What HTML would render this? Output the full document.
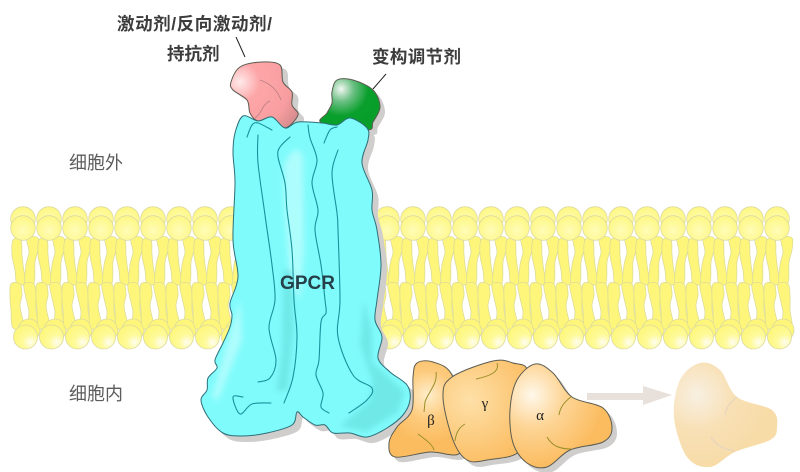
<!DOCTYPE html>
<html><head><meta charset="utf-8">
<style>
html,body{margin:0;padding:0;background:#fff}
svg{display:block}
text{font-family:"Liberation Sans","Noto Sans CJK SC",sans-serif}
.l{font-size:17.500px;font-weight:700;fill:#3c3c3c}
.r{font-size:18px;font-weight:400;fill:#5c5c5c}
.g{font-family:"Liberation Serif",serif;font-size:15px;fill:#222}
.in{fill:none;stroke:#17929b;stroke-width:1.1;stroke-linecap:round}
.o{stroke:#5b5b50;stroke-width:1;stroke-linejoin:round}
.t{stroke:#2c6f78;stroke-width:1;stroke-linejoin:round}
.f{fill:none;stroke:#9a8f2a;stroke-width:1}
</style></head>
<body>
<svg xmlns="http://www.w3.org/2000/svg" width="800" height="472" viewBox="0 0 800 472">
<defs>
<radialGradient id="hT" cx=".5" cy=".6" r=".65"><stop offset="0" stop-color="#fffcb8"/><stop offset="1" stop-color="#fef77e"/></radialGradient>
<radialGradient id="hB" cx=".72" cy=".72" r=".75"><stop offset="0" stop-color="#fffdf0"/><stop offset=".45" stop-color="#fefa98"/><stop offset="1" stop-color="#fef77e"/></radialGradient>
<radialGradient id="pk" gradientUnits="userSpaceOnUse" cx="240" cy="82" r="65"><stop offset="0" stop-color="#ffeaea"/><stop offset=".3" stop-color="#fda6a8"/><stop offset=".75" stop-color="#f99ea0"/><stop offset="1" stop-color="#d98d90"/></radialGradient>
<radialGradient id="gr" gradientUnits="userSpaceOnUse" cx="341" cy="89" r="36"><stop offset="0" stop-color="#f2f7f2"/><stop offset=".35" stop-color="#6cc084"/><stop offset=".75" stop-color="#0a9f2c"/><stop offset="1" stop-color="#079f2a"/></radialGradient>
<radialGradient id="b1" gradientUnits="userSpaceOnUse" cx="428" cy="395" r="48"><stop offset="0" stop-color="#ffeecb"/><stop offset=".5" stop-color="#fdcb7e"/><stop offset="1" stop-color="#fbbc60"/></radialGradient>
<radialGradient id="b2" gradientUnits="userSpaceOnUse" cx="470" cy="400" r="70"><stop offset="0" stop-color="#fee0a8"/><stop offset="1" stop-color="#fbbc60"/></radialGradient>
<radialGradient id="b3" gradientUnits="userSpaceOnUse" cx="532" cy="395" r="72"><stop offset="0" stop-color="#fff8ea"/><stop offset=".45" stop-color="#fdd596"/><stop offset="1" stop-color="#fbbc60"/></radialGradient>
<radialGradient id="b4" gradientUnits="userSpaceOnUse" cx="697" cy="395" r="72"><stop offset="0" stop-color="#f8f0e2"/><stop offset=".5" stop-color="#f8e0b5"/><stop offset="1" stop-color="#f7dca8"/></radialGradient>
<filter id="bl" x="-40%" y="-40%" width="180%" height="180%"><feGaussianBlur stdDeviation="3"/></filter>

<polygon id="body" class="s" points="235,133 243,116 258,121 272,117 285,128 298,122 322,123 337,125 350,118 367,128 368,140 362,163 372,190 372,210 377,230 381,265 377,300 375,320 382,337 378,358 390,372 407,385 410,400 403,415 387,428 367,437 350,433 333,433 325,425 315,425 303,417 297,412 292,425 267,433 243,436 223,433 208,417 201,400 207,390 208,378 217,368 215,360 223,343 230,327 232,315 230,303 238,277 233,240 235,183 233,153"/>
<polygon id="pink" class="s" points="231,82 240,67 262,62 280,65 283,82 292,92 292,105 298,115 285,128 272,117 258,121 250,113 247,100 233,90"/>
<polygon id="green" class="s" points="332,92 337,80 353,80 373,90 380,107 373,122 367,130 322,123 327,113 332,103"/>
<polygon id="beta" class="s" points="413,377 417,363 433,362 452,375 462,420 460,453 430,452 395,457 389,443 397,427 412,410"/>
<polygon id="gamma" class="s" points="443,397 452,377 493,361 513,363 527,371 512,410 520,450 487,460 467,460 453,440"/>
<polygon id="alpha" class="s" points="510,410 517,380 535,364 553,373 572,397 603,408 612,428 603,442 570,450 547,467 527,463 513,443"/>

<g id="u">
<polygon class="s" fill="#fdf67a" stroke="#dedc98" stroke-width=".8" points="-10,240 -2,240 -1,255 1,272 3,283 -6,284 -8,270 -11,255"/>
<polygon class="s" fill="#fdf67a" stroke="#dedc98" stroke-width=".8" points="4,238 15,238 15,250 12,262 11,283 2,284 3,265 6,252"/>
<polygon class="s" fill="#fdf67a" stroke="#dedc98" stroke-width=".8" points="-12,284 -3,284 -1,295 -3,306 0,320 3,328 -10,328 -12,310 -13,298"/>
<polygon class="s" fill="#fdf67a" stroke="#dedc98" stroke-width=".8" points="1,284 11,284 13,296 13,310 15,328 5,328 6,312 3,298"/>
<circle cx="0" cy="219" r="12.3" fill="url(#hT)" stroke="#dcdaa2" stroke-width=".8"/>
<circle cx="0" cy="228" r="12.3" fill="url(#hT)" stroke="#dcdaa2" stroke-width=".8"/>
<circle cx="6" cy="330" r="11" fill="#fdf67a" stroke="#dcdaa2" stroke-width=".8"/>
<circle cx="2.5" cy="337" r="12" fill="url(#hB)" stroke="#dcdaa2" stroke-width=".8"/>
</g>
</defs>

<!-- bilayer -->
<g>
<use href="#u" x="23"/><use href="#u" x="49"/><use href="#u" x="75"/><use href="#u" x="101"/><use href="#u" x="127"/><use href="#u" x="153"/><use href="#u" x="179"/><use href="#u" x="205"/><use href="#u" x="231"/>
<use href="#u" x="361"/><use href="#u" x="387"/><use href="#u" x="413"/><use href="#u" x="439"/><use href="#u" x="465"/><use href="#u" x="491"/><use href="#u" x="517"/><use href="#u" x="543"/><use href="#u" x="569"/><use href="#u" x="595"/><use href="#u" x="621"/><use href="#u" x="647"/><use href="#u" x="673"/><use href="#u" x="699"/><use href="#u" x="725"/><use href="#u" x="751"/><use href="#u" x="777"/>
</g>

<!-- ligands -->
<use href="#pink" x="6" y="5" fill="#cfcecd"/>
<use href="#green" x="5" y="5" fill="#cfcecd"/>
<use href="#pink" fill="url(#pk)" class="o"/>
<use href="#green" fill="url(#gr)" class="o"/>
<path d="M260 80C272 84 278 92 281 100M270 101C262 104 262 114 255 118" fill="none" stroke="#b87f82" stroke-width=".8"/>

<!-- receptor -->
<use href="#body" x="6" y="6" fill="#cfcecd"/>
<use href="#body" fill="#80fbfc"/>
<clipPath id="cb"><use href="#body"/></clipPath>
<g clip-path="url(#cb)">
<g filter="url(#bl)">
<path d="M284 165C292 146 302 146 303 160L304 250L300 300L290 280L284 200Z" fill="#adfdfd"/>
<path d="M240 300L242 340L218 400L212 398L225 350Z" fill="#adfdfd"/>
<path d="M283 270L292 270L294 330L288 390L276 392L282 350Z" fill="#6fe8e8"/>
<path d="M364 300L372 330L372 362L405 392L398 412L366 432L340 426L370 400L372 380L360 345Z" fill="#6fe8e8"/>
</g>
</g>
<use href="#body" fill="none" class="t"/>
<polyline class="s in" points="247,137 252,125 258,123 272,130"/>
<polyline class="s in" points="258,135 258,163 265,215 272,265 275,300 269,328 276,360 270,378 258,382"/>
<polyline class="s in" points="290,137 280,147 278,157 285,183 287,210 292,250 294,300 297,337 293,377 284,403"/>
<polyline class="s in" points="308,125 310,138 317,160 312,183 318,210 315,230 321,265 325,300 326,313 321,322 319,360 316,375 323,393 321,407 329,413"/>
<polyline class="s in" points="324,143 330,130 337,127"/>
<polyline class="s in" points="338,150 332,173 337,213 338,230 340,300 338,337 353,375 372,388 367,400 349,413"/>
<polyline class="s in" points="243,397 233,397 240,414 252,404 271,403"/>

<!-- G protein -->
<use href="#alpha" x="5" y="5" fill="#cfcecd"/>
<use href="#gamma" x="5" y="5" fill="#cfcecd"/>
<use href="#beta" x="5" y="5" fill="#cfcecd"/>
<use href="#beta" fill="url(#b1)" class="o"/>
<use href="#gamma" fill="url(#b2)" class="o"/>
<use href="#alpha" fill="url(#b3)" class="o"/>
<path class="f" d="M436 372C438 384 428 392 425 402L424 412M418 434C426 440 432 444 434 450M465 424C458 428 456 434 455 441M476 379C490 376 500 372 497 363M571 397C564 402 560 408 559 415M547 437C552 446 560 449 571 449"/>
<text class="g" x="431" y="425" text-anchor="middle">β</text>
<text class="g" x="485" y="408" text-anchor="middle">γ</text>
<text class="g" x="540" y="420" text-anchor="middle">α</text>

<!-- arrow + ghost -->
<polygon points="587,393 643,393 643,386 672,395 643,405 643,400 587,400" fill="#e8e0da"/>
<polygon class="s" fill="url(#b4)" points="674,417 680,380 700,363 720,370 737,397 772,410 777,428 770,440 735,452 710,467 687,457"/>
<path d="M737 397C730 402 726 408 725 415M711 437C716 446 724 449 735 451" fill="none" stroke="#e3d3c0" stroke-width="1"/>

<!-- labels -->
<text class="l" x="117" y="30" textLength="155" lengthAdjust="spacing">激动剂/反向激动剂/</text>
<text class="l" x="167" y="60">持抗剂</text>
<text class="l" x="372" y="63" textLength="89">变构调节剂</text>
<line x1="236" y1="37" x2="245" y2="57" stroke="#222" stroke-width="1"/>
<line x1="386" y1="74" x2="373" y2="89" stroke="#222" stroke-width="1"/>
<text class="r" x="69" y="169">细胞外</text>
<text class="r" x="69" y="400">细胞内</text>
<text x="307.500" y="289" text-anchor="middle" font-size="19" font-weight="700" fill="#26404a">GPCR</text>
</svg>
<script>
(function(){
var NS="http://www.w3.org/2000/svg";
var list=document.querySelectorAll("polygon.s,polyline.s");
for(var i=0;i<list.length;i++){
 var e=list[i],closed=e.tagName.toLowerCase()==="polygon";
 var n=e.getAttribute("points").trim().split(/\s+/).map(function(a){return a.split(",").map(Number)});
 var L=n.length,d="M"+n[0][0]+" "+n[0][1];
 function P(k){return closed?n[(k+L)%L]:n[Math.max(0,Math.min(L-1,k))]}
 var end=closed?L:L-1;
 for(var k=0;k<end;k++){
  var p0=P(k-1),p1=P(k),p2=P(k+1),p3=P(k+2),t=6;
  d+="C"+(p1[0]+(p2[0]-p0[0])/t).toFixed(1)+" "+(p1[1]+(p2[1]-p0[1])/t).toFixed(1)+" "+(p2[0]-(p3[0]-p1[0])/t).toFixed(1)+" "+(p2[1]-(p3[1]-p1[1])/t).toFixed(1)+" "+p2[0]+" "+p2[1];
 }
 if(closed)d+="Z";
 var p=document.createElementNS(NS,"path");
 for(var a=0;a<e.attributes.length;a++){var at=e.attributes[a];if(at.name!=="points")p.setAttribute(at.name,at.value)}
 p.setAttribute("d",d);
 e.parentNode.replaceChild(p,e);
}
})();
</script>
</body></html>
